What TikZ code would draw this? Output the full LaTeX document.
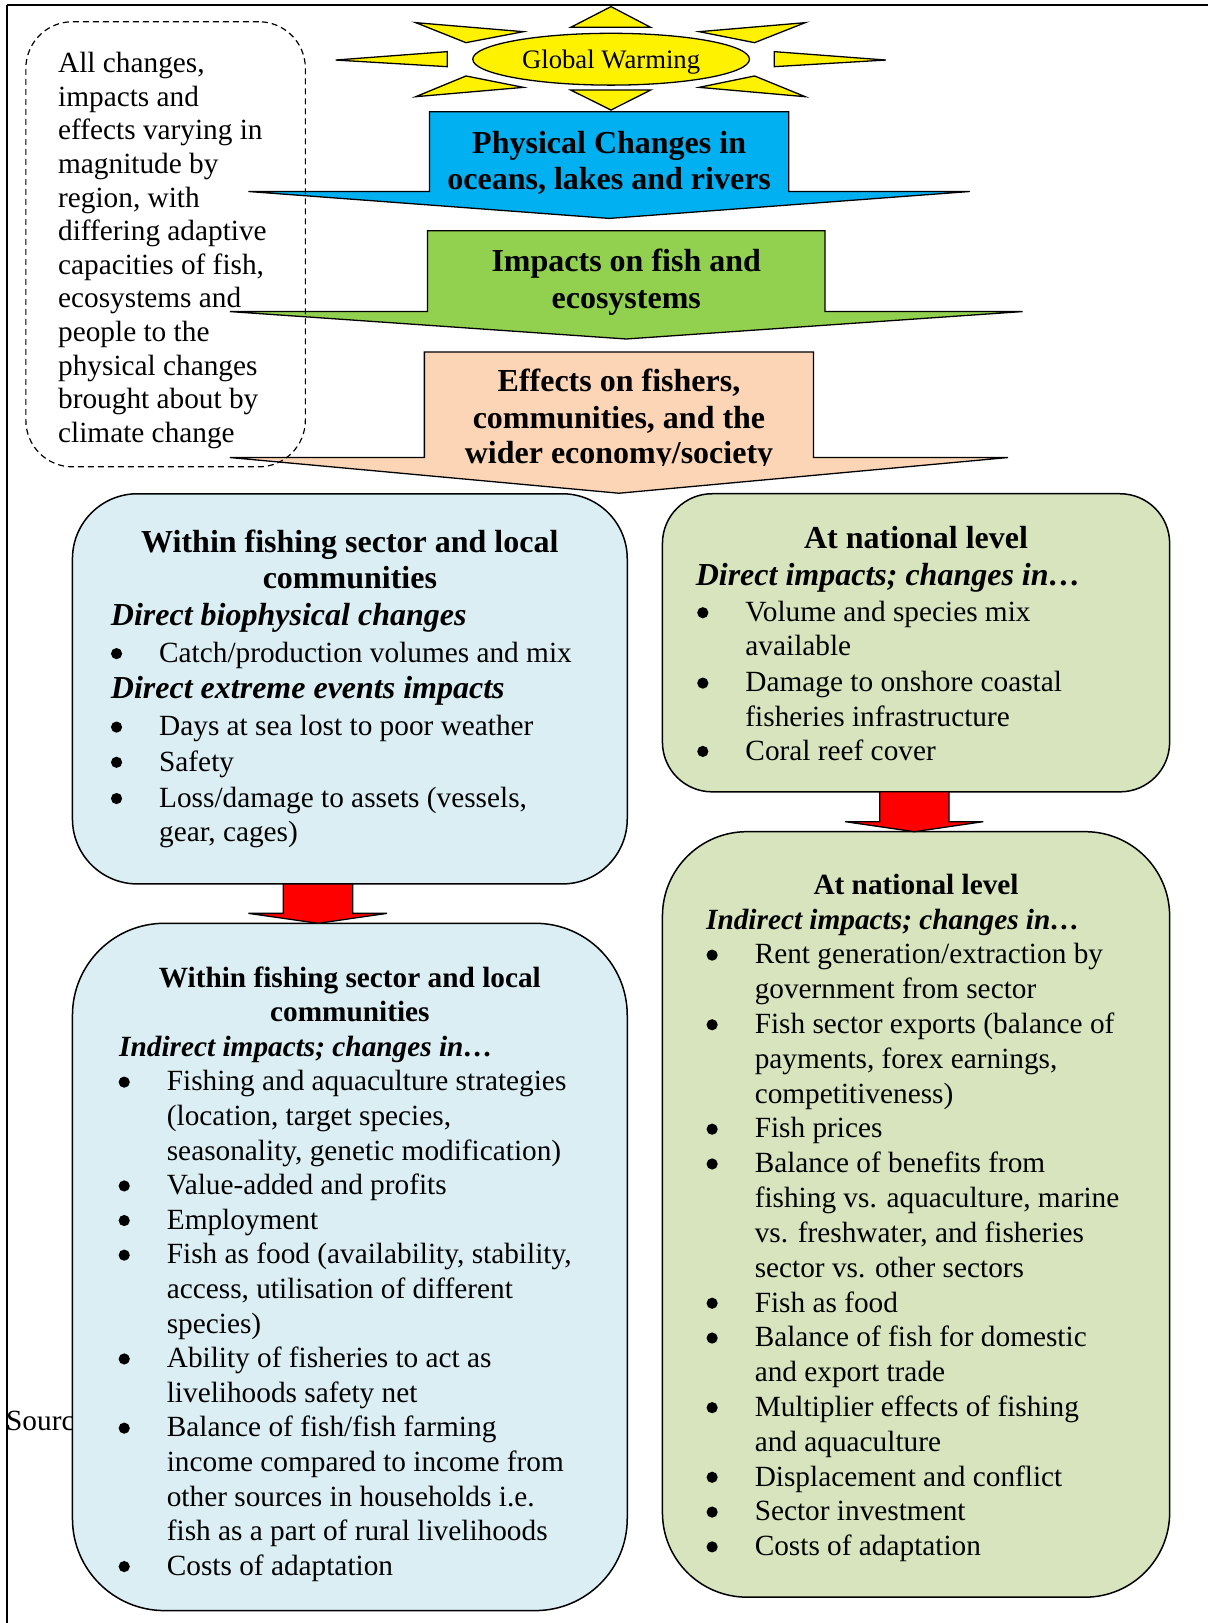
\documentclass[tikz,border=0pt]{standalone}
\usepackage{fontspec}
\setmainfont{Liberation Serif}
\usetikzlibrary{shapes.geometric}
\definecolor{boxblue}{HTML}{DAEEF3}
\definecolor{boxgreen}{HTML}{D7E4BD}
\definecolor{peach}{HTML}{FBD5B5}
\definecolor{arrblue}{HTML}{00B0F0}
\definecolor{arrgreen}{HTML}{92D050}
\begin{document}
\begin{tikzpicture}[x=1.0351pt, y=-1.0351pt,
 body/.style={anchor=base west, inner sep=0pt, yshift=-1.5pt, font=\fontsize{29.3}{34}\selectfont},
 bhead/.style={anchor=base, inner sep=0pt, yshift=-1.5pt, font=\fontsize{32}{36}\selectfont\bfseries},
 shead/.style={anchor=base, inner sep=0pt, yshift=-1.5pt, font=\fontsize{29.3}{34}\selectfont\bfseries},
 bital/.style={anchor=base west, inner sep=0pt, yshift=-1.5pt, font=\fontsize{32}{36}\selectfont\bfseries\itshape},
 sital/.style={anchor=base west, inner sep=0pt, yshift=-1.5pt, font=\fontsize{29.3}{34}\selectfont\bfseries\itshape},
 rbox/.style={draw, line width=1.5pt, inner sep=0pt, outer sep=0pt},
 blockarrow/.style={draw, line width=1.3pt, line join=miter},
 ray/.style={draw, fill=yellow, line width=1.3pt, line join=miter},
 dot/.style={fill=black},
]
\useasboundingbox (0,0) rectangle (1167,1568);
% frame
\draw[line width=2pt] (7,4.8) -- (1167,4.8);
\draw[line width=1.5pt] (7,4.8) -- (7,1568);
% source text (partly hidden)
\node[body] (src) at (5.8,1381) {Source:};
% sun
\draw[ray] (590.3,6.4) -- (628.6,26.4) -- (551.4,26.4) -- cycle;
\draw[ray] (551.4,87) -- (628.6,87) -- (590.3,106.3) -- cycle;
\draw[ray] (324.2,58) -- (432,49.9) -- (432,64.4) -- cycle;
\draw[ray] (855.8,58) -- (748.1,49.9) -- (748.1,64.4) -- cycle;
\draw[ray] (401.7,21.9) -- (505.6,30.6) -- (450.2,41.2) -- cycle;
\draw[ray] (777.9,21.9) -- (675.5,30.6) -- (729,41.2) -- cycle;
\draw[ray] (401.7,93.4) -- (505.6,84.4) -- (450.2,73.4) -- cycle;
\draw[ray] (777.9,93.4) -- (675.5,84.4) -- (729,73.4) -- cycle;
\node[draw, ellipse, fill=yellow, line width=1.3pt, inner sep=0pt,
  minimum width=276.7pt, minimum height=51.8pt] (gw) at (590.4,57.2) {};
\node[anchor=base, inner sep=0pt, font=\fontsize{26.7}{30}\selectfont] (gwt) at (590.4,66) {Global Warming};
% block arrows
\draw[blockarrow, fill=arrblue] (415,108) -- (762,108) -- (762,185) -- (937,185) -- (588.5,211) -- (240,185) -- (415,185) -- cycle;
\node[bhead] (p1) at (588.5,146.5) {Physical Changes in};
\node[bhead] (p2) at (588.5,182) {oceans, lakes and rivers};
\draw[blockarrow, fill=arrgreen] (413,223) -- (797,223) -- (797,301) -- (988,301) -- (605,327.5) -- (222,301) -- (413,301) -- cycle;
\node[bhead] (i1) at (605,261) {Impacts on fish and};
\node[bhead] (i2) at (605,296.5) {ecosystems};
\draw[blockarrow, fill=peach] (410,340) -- (786,340) -- (786,442) -- (974,442) -- (598,476.5) -- (222,442) -- (410,442) -- cycle;
\begin{scope}
\clip (0,0) rectangle (1167,450);
\node[bhead] (e1) at (598,377) {Effects on fishers,};
\node[bhead] (e2) at (598,412.5) {communities, and the};
\node[bhead] (e3) at (598,446.5) {wider economy/society};
\end{scope}
% dashed note
\node[rbox, dash pattern=on 6pt off 4pt, line width=1.2pt, rounded corners=46.6pt,
  minimum width=279.5pt, minimum height=445.1pt] (note) at (160,236) {};
\foreach \t [count=\i] in {{All changes,}, impacts and, effects varying in, magnitude by,
  {region, with}, differing adaptive, {capacities of fish,}, ecosystems and, people to the,
  physical changes, brought about by, climate change}
  \node[body] (n\i) at (56,{68.6+(\i-1)*32.5}) {\t};
% box A
\node[rbox, fill=boxblue, rounded corners=65pt, minimum width=554.8pt, minimum height=390.2pt] (boxA) at (338,665.5) {};
\node[bhead] (a1) at (338,532.5) {Within fishing sector and local};
\node[bhead] (a2) at (338,567.5) {communities};
\node[bital] (a3) at (107,602.5) {Direct biophysical changes};
\node[body] (a4) at (153.6,638.5) {Catch/production volumes and mix};
\node[bital] (a5) at (107,673.5) {Direct extreme events impacts};
\node[body] (a6) at (153.6,709.5) {Days at sea lost to poor weather};
\node[body] (a7) at (153.6,743.5) {Safety};
\node[body] (a8) at (153.6,778.5) {Loss/damage to assets (vessels,};
\node[body] (a9) at (153.6,811.5) {gear, cages)};
\foreach \n in {a4,a6,a7,a8} \fill[dot] (\n.base west) ++(-41,-8.5) circle[radius=5.6pt];
% box B
\node[rbox, fill=boxgreen, rounded corners=49.7pt, minimum width=507.2pt, minimum height=298.1pt] (boxB) at (885,621) {};
\node[bhead] (b1) at (885,528) {At national level};
\node[bital] (b2) at (672,564) {Direct impacts; changes in…};
\node[body] (b3) at (720,599) {Volume and species mix};
\node[body] (b4) at (720,632) {available};
\node[body] (b5) at (720,667) {Damage to onshore coastal};
\node[body] (b6) at (720,700) {fisheries infrastructure};
\node[body] (b7) at (720,733) {Coral reef cover};
\foreach \n in {b3,b5,b7} \fill[dot] (\n.base west) ++(-41,-8.5) circle[radius=5.6pt];
% box C
\node[rbox, fill=boxblue, rounded corners=92pt, minimum width=554.8pt, minimum height=687.3pt] (boxC) at (338,1224) {};
\node[shead] (c1) at (338,952.3) {Within fishing sector and local};
\node[shead] (c2) at (338,985.7) {communities};
\node[sital] (c3) at (115,1019.1) {Indirect impacts; changes in…};
\foreach \t [count=\i] in {Fishing and aquaculture strategies, {(location, target species,},
  {seasonality, genetic modification)}, Value-added and profits, Employment,
  {Fish as food (availability, stability,}, {access, utilisation of different}, species),
  Ability of fisheries to act as, livelihoods safety net, Balance of fish/fish farming,
  income compared to income from, other sources in households i.e.,
  fish as a part of rural livelihoods, Costs of adaptation}
  \node[body] (cl\i) at (161,{1052.5+(\i-1)*33.43}) {\t};
\foreach \i in {1,4,5,6,9,11,15} \fill[dot] (cl\i.base west) ++(-41,-8.5) circle[radius=5.6pt];
% box D
\node[rbox, fill=boxgreen, rounded corners=84.5pt, minimum width=507.2pt, minimum height=765.5pt] (boxD) at (885,1173.25) {};
\node[shead] (d1) at (885,862.5) {At national level};
\node[sital] (d2) at (682,896.1) {Indirect impacts; changes in…};
\foreach \t [count=\i] in {Rent generation/extraction by, government from sector,
  Fish sector exports (balance of, {payments, forex earnings,}, competitiveness),
  Fish prices, Balance of benefits from, {fishing vs. aquaculture, marine},
  {vs. freshwater, and fisheries}, sector vs. other sectors, Fish as food,
  Balance of fish for domestic, and export trade, Multiplier effects of fishing,
  and aquaculture, Displacement and conflict, Sector investment, Costs of adaptation}
  \node[body] (dl\i) at (729,{929.8+(\i-1)*33.63}) {\t};
\foreach \i in {1,3,6,7,11,12,14,16,17,18} \fill[dot] (dl\i.base west) ++(-41,-8.5) circle[radius=5.6pt];
% red arrows
\draw[blockarrow, fill=red] (273.7,854) -- (340.7,854) -- (340.7,882.4) -- (374,882.4) -- (307.2,892) -- (240,882.4) -- (273.7,882.4) -- cycle;
\draw[blockarrow, fill=red] (850,765) -- (916.9,765) -- (916.9,793.8) -- (950,793.8) -- (883.4,803.5) -- (816.4,793.8) -- (850,793.8) -- cycle;
\end{tikzpicture}
\end{document}
